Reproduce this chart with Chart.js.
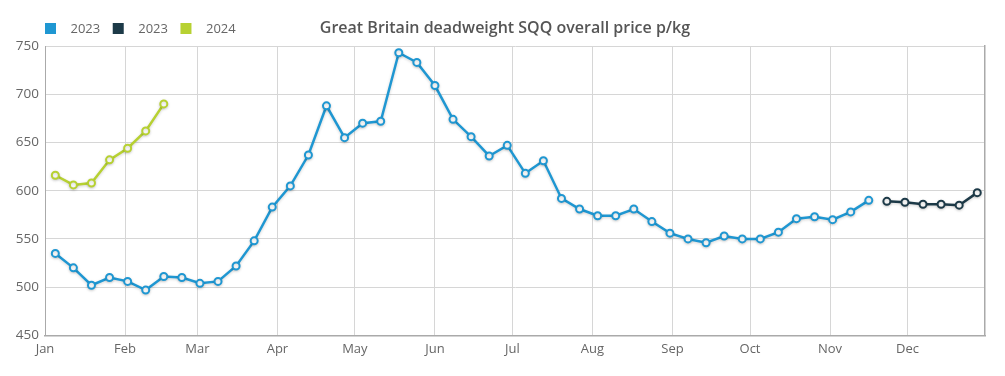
<!DOCTYPE html>
<html>
<head>
<meta charset="utf-8">
<script src="https://cdn.jsdelivr.net/npm/chart.js@4.4.0/dist/chart.umd.min.js"></script>
<style>
    body { margin: 0; background: #fff; }
    #wrap { width: 1005px; height: 376px; }
</style>
</head>
<body>
<div id="wrap"><canvas id="priceChart" width="1005" height="376"></canvas></div>
<script>
// weekly price data, day-of-year of each week
var weekDays = [4, 11, 18, 25, 32, 39, 46, 53, 60, 67, 74, 81, 88, 95, 102, 109, 116, 123, 130, 137,
    144, 151, 158, 165, 172, 179, 186, 193, 200, 207, 214, 221, 228, 235, 242, 249, 256, 263, 270, 277,
    284, 291, 298, 305, 312, 319, 326, 333, 340, 347, 354, 361];

var price2023 = [535, 520, 502, 510, 506, 497, 511, 510, 504, 506, 522, 548, 583, 605, 637, 688, 655, 670, 672, 743,
    733, 709, 674, 656, 636, 647, 618, 631, 592, 581, 574, 574, 581, 568, 556, 550, 546, 553, 550, 550,
    557, 571, 573, 570, 578, 590];
var price2023Late = [589, 588, 586, 586, 585, 598];
var price2024 = [616, 606, 608, 632, 644, 662, 690];

var monthStarts = [0, 31, 59, 90, 120, 151, 181, 212, 243, 273, 304, 334];
var monthNames = ['Jan', 'Feb', 'Mar', 'Apr', 'May', 'Jun', 'Jul', 'Aug', 'Sep', 'Oct', 'Nov', 'Dec'];
var yTicks = [450, 500, 550, 600, 650, 700, 750];

var chartTitle = 'Great Britain deadweight SQQ overall price p/kg';
var fontFamily = '"Open Sans", "Noto Sans", sans-serif';

function toPoints(values, offset) {
    return values.map((v, i) => ({ x: weekDays[i + offset], y: v }));
}

function lineSet(label, values, offset, color) {
    return {
        label: label,
        data: toPoints(values, offset),
        borderColor: color,
        backgroundColor: color,
        borderWidth: 2.5,
        pointRadius: 3.5,
        pointBorderWidth: 2,
        pointBackgroundColor: '#fff',
        pointBorderColor: color,
        tension: 0
    };
}

// title and legend share the top row, so draw them by hand
var headerPlugin = {
    id: 'header',
    beforeDatasetsDraw(chart) {
        var ctx = chart.ctx;
        ctx.save();
        ctx.shadowColor = 'rgba(0, 0, 0, 0.18)';
        ctx.shadowBlur = 3;
        ctx.shadowOffsetY = 1;
    },
    afterDatasetsDraw(chart) {
        chart.ctx.restore();
    },
    afterDraw(chart) {
        var ctx = chart.ctx;
        ctx.save();
        ctx.textBaseline = 'middle';

        ctx.font = '600 16px ' + fontFamily;
        ctx.fillStyle = '#555';
        ctx.textAlign = 'center';
        ctx.fillText(chartTitle, 505, 28);

        ctx.font = '13px ' + fontFamily;
        ctx.textAlign = 'left';
        var x = 45;
        chart.data.datasets.forEach(ds => {
            ctx.fillStyle = ds.borderColor;
            ctx.fillRect(x, 23, 11, 11);
            ctx.fillStyle = '#666';
            var tx = x + 25.5;
            ctx.fillText(ds.label, tx, 29.5);
            x = tx + ctx.measureText(ds.label).width + 12.5;
        });
        ctx.restore();
    }
};

var ctx = document.getElementById('priceChart').getContext('2d');
var chart = new Chart(ctx, {
    type: 'line',
    data: {
        datasets: [
            lineSet('2023', price2023, 0, '#1f97d2'),
            lineSet('2023', price2023Late, price2023.length, '#1d3a48'),
            lineSet('2024', price2024, 0, '#b7d132')
        ]
    },
    options: {
        responsive: false,
        animation: false,
        layout: { padding: { top: 46, left: 0, right: 20, bottom: 13 } },
        plugins: {
            legend: { display: false },
            title: { display: false },
            tooltip: { enabled: false }
        },
        scales: {
            x: {
                type: 'linear',
                min: 0,
                max: 364,
                afterBuildTicks: (scale) => {
                    scale.ticks = monthStarts.map(v => ({ value: v }));
                },
                ticks: {
                    autoSkip: false,
                    maxRotation: 0,
                    padding: 6,
                    color: '#666',
                    font: { family: fontFamily, size: 13 },
                    callback: (value) => monthNames[monthStarts.indexOf(value)]
                },
                grid: { color: '#d6d6d6', drawTicks: false },
                border: { color: '#aaa', width: 1.5 }
            },
            y: {
                min: 450,
                max: 750,
                afterBuildTicks: (scale) => {
                    scale.ticks = yTicks.map(v => ({ value: v }));
                },
                afterFit: (scale) => { scale.width = 45; },
                ticks: {
                    padding: 6,
                    color: '#666',
                    font: { family: fontFamily, size: 13.5 }
                },
                grid: { color: '#d6d6d6', drawTicks: false },
                border: { color: '#aaa' }
            },
            yRight: {
                position: 'right',
                min: 450,
                max: 750,
                afterFit: (scale) => { scale.width = 0; },
                ticks: { display: false },
                grid: { display: false, drawTicks: false },
                border: { color: '#aaa', width: 1.5 }
            }
        }
    },
    plugins: [headerPlugin]
});
</script>
</body>
</html>
